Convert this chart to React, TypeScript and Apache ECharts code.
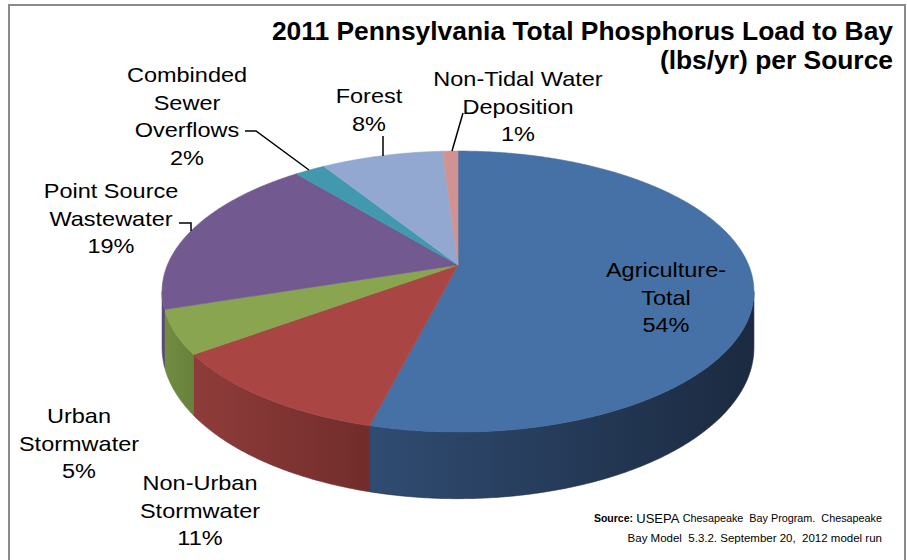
import React, { useEffect, useRef } from "react";
import * as echarts from "echarts";

// ---- data ----
const categories = [
  "Agriculture-\nTotal",
  "Non-Urban\nStormwater",
  "Urban\nStormwater",
  "Point Source\nWastewater",
  "Combinded\nSewer\nOverflows",
  "Forest",
  "Non-Tidal Water\nDeposition",
];
const values = [54, 11, 5, 19, 2, 8, 1];

const titleText = "2011 Pennsylvania Total Phosphorus Load to Bay\n(lbs/yr) per Source";

// ---- styles ----
const topColors = ["#4571a6", "#a94643", "#8aa54f", "#725990", "#4299af", "#93a8d0", "#d19391"];
const sideColors: [string, string][] = [
  ["#304c72", "#1b2a40"],
  ["#8f3c3a", "#712d2b"],
  ["#728c42", "#68813b"],
  ["#5f4a79", "#574470"],
  ["#347a8c", "#2e6d7e"],
  ["#7686a6", "#6a7a99"],
  ["#a77674", "#9a6b69"],
];

// ---- layout ----
const CX = 458;
const CY = 265;
const RA = 290.6;
const RB = 135.5;
const PERSP = 0.189;
const DEPTH = 54;

const labelPos: [number, number][] = [
  [666, 270],
  [200, 483],
  [79, 416],
  [111, 191],
  [187, 75],
  [369, 96],
  [518, 79],
];
const leaderLines: [number, number][][] = [
  [],
  [],
  [],
  [[179, 223], [191, 223], [191, 231]],
  [[245, 131], [256, 131], [309, 170]],
  [[383, 136], [383, 156]],
  [[463, 113], [452, 151]],
];

function proj(deg: number, drop: number): number[] {
  const t = (deg * Math.PI) / 180;
  const X = Math.sin(t);
  const Z = Math.cos(t);
  const w = 1 + PERSP * Z;
  return [CX + (RA * X) / w, CY - (RB * Z) / w + drop / w];
}

export default function App() {
  const ref = useRef<HTMLDivElement>(null);
  useEffect(() => {
    if (!ref.current) return;
    const chart = echarts.init(ref.current, undefined, { renderer: "svg" });
    const total = values.reduce((a, b) => a + b, 0);
    const aRight = (Math.acos(-PERSP) * 180) / Math.PI;
    const aLeft = 360 - aRight;

    const renderItem = (params: any, api: any) => {
      const i = params.dataIndex;
      let before = 0;
      for (let k = 0; k < i; k++) before += values[k];
      const v = api.value(0);
      const a0 = (before / total) * 360;
      const a1 = ((before + v) / total) * 360;
      const topPts: number[][] = [[CX, CY]];
      const step = 0.5;
      for (let a = a0; a < a1; a += step) topPts.push(proj(a, 0));
      topPts.push(proj(a1, 0));
      const children: any[] = [];
      const s0 = Math.max(a0, aRight);
      const s1 = Math.min(a1, aLeft);
      if (s1 > s0) {
        const pts: number[][] = [];
        for (let a = s0; a < s1; a += step) pts.push(proj(a, 0));
        pts.push(proj(s1, 0));
        pts.push(proj(s1, DEPTH));
        for (let a = s1; a > s0; a -= step) pts.push(proj(a, DEPTH));
        pts.push(proj(s0, DEPTH));
        children.push({
          type: "polygon",
          shape: { points: pts },
          style: {
            fill: {
              type: "linear",
              x: 0,
              y: 0,
              x2: 1,
              y2: 0,
              colorStops: [
                { offset: 0, color: sideColors[i][0] },
                { offset: 1, color: sideColors[i][1] },
              ],
            },
            stroke: sideColors[i][1],
            lineWidth: 0.6,
          },
        });
      }
      children.push({
        type: "polygon",
        shape: { points: topPts },
        style: { fill: topColors[i], stroke: topColors[i], lineWidth: 0.6 },
      });
      return { type: "group", children };
    };

    const labelFont = "Liberation Sans, Arial, sans-serif";
    const graphics: any[] = [
      {
        type: "rect",
        shape: { x: 9, y: 5, width: 896, height: 620 },
        style: { fill: "none", stroke: "#8a8a8a", lineWidth: 2 },
        z: 10,
      },
      {
        type: "text",
        x: 893,
        y: 17,
        scaleX: 1.015,
        style: {
          text: titleText,
          fontSize: 26,
          fontWeight: "bold",
          fontFamily: labelFont,
          fill: "#000",
          align: "right",
          textAlign: "right",
          verticalAlign: "top",
          textVerticalAlign: "top",
          lineHeight: 28.5,
        },
        z: 10,
      },
    ];
    categories.forEach((name, i) => {
      const pct = Math.round((values[i] / total) * 100) + "%";
      graphics.push({
        type: "text",
        x: labelPos[i][0],
        y: labelPos[i][1] - 13.75,
        scaleX: 1.12,
        style: {
          text: name + "\n" + pct,
          fontSize: 21,
          fontFamily: labelFont,
          fill: "#000",
          align: "center",
          textAlign: "center",
          verticalAlign: "top",
          textVerticalAlign: "top",
          lineHeight: 27.5,
        },
        z: 10,
      });
      if (leaderLines[i].length) {
        graphics.push({
          type: "polyline",
          shape: { points: leaderLines[i] },
          style: { stroke: "#000", lineWidth: 1.5, fill: "none" },
          z: 10,
        });
      }
    });
    graphics.push({
      type: "text",
      x: 882,
      y: 518,
      style: {
        text: "{b|Source:} {u|USEPA} {n|Chesapeake  Bay Program.  Chesapeake}",
        align: "right",
        textAlign: "right",
        verticalAlign: "middle",
        textVerticalAlign: "middle",
        fill: "#000",
        rich: {
          b: { fontSize: 10.5, fontWeight: "bold", fontFamily: labelFont, fill: "#000" },
          u: { fontSize: 13, fontFamily: labelFont, fill: "#000" },
          n: { fontSize: 10.8, fontFamily: labelFont, fill: "#000" },
        },
      },
      z: 10,
    });
    graphics.push({
      type: "text",
      x: 882,
      y: 538,
      style: {
        text: "Bay Model  5.3.2. September 20,  2012 model run",
        fontSize: 11.5,
        fontFamily: labelFont,
        fill: "#000",
        align: "right",
        textAlign: "right",
        verticalAlign: "middle",
        textVerticalAlign: "middle",
      },
      z: 10,
    });

    chart.setOption({
      animation: false,
      backgroundColor: "#ffffff",
      graphic: { elements: graphics },
      series: [
        {
          type: "custom",
          coordinateSystem: "none",
          silent: true,
          renderItem,
          data: values.map((v, i) => ({ name: categories[i], value: [v] })),
        },
      ],
    });
    return () => chart.dispose();
  }, []);
  return (
    <div
      ref={ref}
      style={{ position: "fixed", left: 0, top: 0, width: 907, height: 560, background: "#fff" }}
    />
  );
}
